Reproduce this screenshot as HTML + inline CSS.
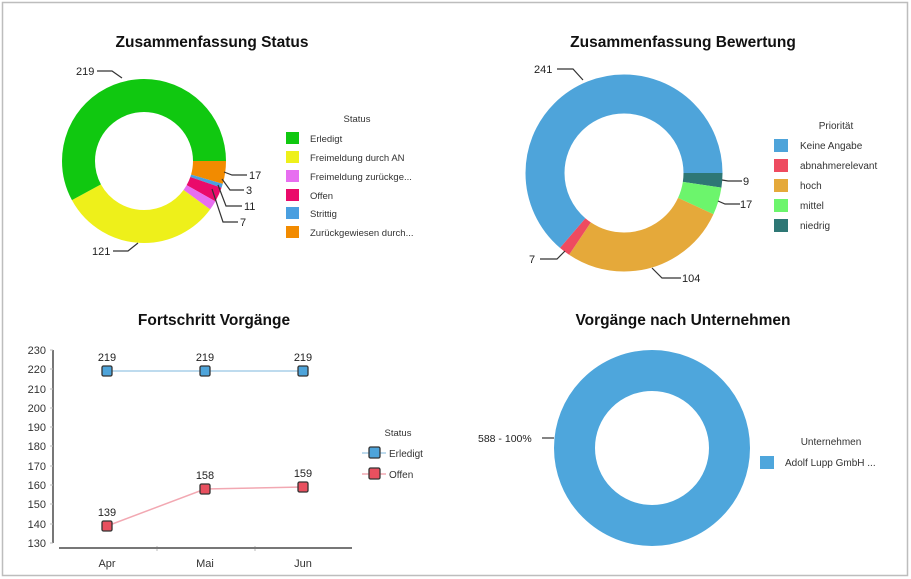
<!DOCTYPE html>
<html><head><meta charset="utf-8"><style>
body{margin:0;background:#fff;}
svg{display:block;font-family:"Liberation Sans",sans-serif;}
</style></head><body>
<svg width="911" height="579" viewBox="0 0 911 579">
<rect x="2.5" y="2.5" width="905" height="573" fill="#fff" stroke="#bdbdbd" stroke-width="1.5"/>
<g font-weight="bold" font-size="15.5" fill="#111" text-anchor="middle">
<text x="212" y="47">Zusammenfassung Status</text>
<text x="683" y="47">Zusammenfassung Bewertung</text>
<text x="214" y="325">Fortschritt Vorgänge</text>
<text x="683" y="325">Vorgänge nach Unternehmen</text>
</g>
<!-- Donut 1 -->
<g fill="none" stroke-width="33" transform="translate(144,161)">
<circle r="65.5" stroke="#f28b00" stroke-dasharray="18.51 500" stroke-dashoffset="0"/>
<circle r="65.5" stroke="#4a9fe0" stroke-dasharray="3.27 500" stroke-dashoffset="-18.51"/>
<circle r="65.5" stroke="#ea0a6a" stroke-dasharray="11.98 500" stroke-dashoffset="-21.78"/>
<circle r="65.5" stroke="#e76ef0" stroke-dasharray="7.62 500" stroke-dashoffset="-33.76"/>
<circle r="65.5" stroke="#eef01a" stroke-dasharray="131.74 500" stroke-dashoffset="-41.38"/>
<circle r="65.5" stroke="#10c810" stroke-dasharray="238.44 500" stroke-dashoffset="-173.12"/>
</g>
<g fill="none" stroke="#333" stroke-width="1.2">
<polyline points="122,78 112,71 97,71"/>
<polyline points="138,243 128,251 113,251"/>
<polyline points="224,172 232,175 247,175"/>
<polyline points="222,179 230,190 244,190"/>
<polyline points="218,185 226,206 242,206"/>
<polyline points="212,189 223,222 238,222"/>
</g>
<g font-size="11" fill="#222">
<text x="76" y="75">219</text>
<text x="92" y="255">121</text>
<text x="249" y="179">17</text>
<text x="246" y="194">3</text>
<text x="244" y="210">11</text>
<text x="240" y="226">7</text>
</g>
<g font-size="9.5" fill="#333">
<text x="357" y="122" text-anchor="middle">Status</text>
<rect x="286" y="132" width="13" height="12" fill="#10c810"/><text x="310" y="142">Erledigt</text>
<rect x="286" y="151" width="13" height="12" fill="#eef01a"/><text x="310" y="161">Freimeldung durch AN</text>
<rect x="286" y="170" width="13" height="12" fill="#e76ef0"/><text x="310" y="180">Freimeldung zurückge...</text>
<rect x="286" y="189" width="13" height="12" fill="#ea0a6a"/><text x="310" y="199">Offen</text>
<rect x="286" y="207" width="13" height="12" fill="#4a9fe0"/><text x="310" y="217">Strittig</text>
<rect x="286" y="226" width="13" height="12" fill="#f28b00"/><text x="310" y="236">Zurückgewiesen durch...</text>
</g>
<!-- Donut 2 -->
<g fill="none" stroke-width="39" transform="translate(624,173)">
<circle r="79" stroke="#2e7775" stroke-dasharray="11.82 600" stroke-dashoffset="0"/>
<circle r="79" stroke="#6cf56c" stroke-dasharray="22.32 600" stroke-dashoffset="-11.82"/>
<circle r="79" stroke="#e5a93a" stroke-dasharray="136.57 600" stroke-dashoffset="-34.14"/>
<circle r="79" stroke="#ee4b60" stroke-dasharray="9.19 600" stroke-dashoffset="-170.71"/>
<circle r="79" stroke="#4ea4da" stroke-dasharray="316.47 600" stroke-dashoffset="-179.9"/>
</g>
<g fill="none" stroke="#333" stroke-width="1.2">
<polyline points="583,80 573,69 557,69"/>
<polyline points="722,180 728,181 742,181"/>
<polyline points="718,201 725,204 740,204"/>
<polyline points="652,268 662,278 681,278"/>
<polyline points="565,251 557,259 540,259"/>
</g>
<g font-size="11" fill="#222">
<text x="534" y="73">241</text>
<text x="743" y="185">9</text>
<text x="740" y="208">17</text>
<text x="682" y="282">104</text>
<text x="529" y="263">7</text>
</g>
<g font-size="10" fill="#333">
<text x="836" y="129" text-anchor="middle">Priorität</text>
<rect x="774" y="139" width="14" height="13" fill="#4ea4da"/><text x="800" y="149">Keine Angabe</text>
<rect x="774" y="159" width="14" height="13" fill="#ee4b60"/><text x="800" y="169">abnahmerelevant</text>
<rect x="774" y="179" width="14" height="13" fill="#e5a93a"/><text x="800" y="189">hoch</text>
<rect x="774" y="199" width="14" height="13" fill="#6cf56c"/><text x="800" y="209">mittel</text>
<rect x="774" y="219" width="14" height="13" fill="#2e7775"/><text x="800" y="229">niedrig</text>
</g>
<!-- Donut 3 -->
<circle cx="652" cy="448" r="77.5" fill="none" stroke="#4ea6dc" stroke-width="41"/>
<polyline points="554,438 542,438" fill="none" stroke="#333" stroke-width="1.2"/>
<text x="478" y="442" font-size="10.5" fill="#222">588 - 100%</text>
<text x="831" y="445" font-size="10" fill="#333" text-anchor="middle">Unternehmen</text>
<rect x="760" y="456" width="14" height="13" fill="#4ea6dc"/>
<text x="785" y="466" font-size="10" fill="#333">Adolf Lupp GmbH ...</text>
<!-- Line chart -->
<g font-size="11" fill="#333" text-anchor="end">
<text x="46" y="354">230</text><text x="46" y="373">220</text><text x="46" y="393">210</text>
<text x="46" y="412">200</text><text x="46" y="431">190</text><text x="46" y="450">180</text>
<text x="46" y="470">170</text><text x="46" y="489">160</text><text x="46" y="508">150</text>
<text x="46" y="528">140</text><text x="46" y="547">130</text>
</g>
<line x1="53" y1="350" x2="53" y2="543" stroke="#777" stroke-width="2"/>
<g stroke="#bbb" stroke-width="1">
<line x1="50" y1="350" x2="53" y2="350"/><line x1="50" y1="369" x2="53" y2="369"/><line x1="50" y1="389" x2="53" y2="389"/>
<line x1="50" y1="408" x2="53" y2="408"/><line x1="50" y1="427" x2="53" y2="427"/><line x1="50" y1="446" x2="53" y2="446"/>
<line x1="50" y1="466" x2="53" y2="466"/><line x1="50" y1="485" x2="53" y2="485"/><line x1="50" y1="504" x2="53" y2="504"/>
<line x1="50" y1="524" x2="53" y2="524"/><line x1="50" y1="543" x2="53" y2="543"/>
<line x1="157" y1="546" x2="157" y2="551"/><line x1="255" y1="546" x2="255" y2="551"/>
</g>
<line x1="59" y1="548" x2="352" y2="548" stroke="#777" stroke-width="2"/>
<g font-size="11" fill="#333" text-anchor="middle">
<text x="107" y="567">Apr</text><text x="205" y="567">Mai</text><text x="303" y="567">Jun</text>
</g>
<polyline points="107,371 205,371 303,371" fill="none" stroke="#a9cfe9" stroke-width="1.5"/>
<polyline points="107,526 205,489 303,487" fill="none" stroke="#f2a8b2" stroke-width="1.5"/>
<g stroke="#333" stroke-width="1.3">
<rect x="102" y="366" width="10" height="10" rx="1.5" fill="#4ea4da"/>
<rect x="200" y="366" width="10" height="10" rx="1.5" fill="#4ea4da"/>
<rect x="298" y="366" width="10" height="10" rx="1.5" fill="#4ea4da"/>
<rect x="102" y="521" width="10" height="10" rx="1.5" fill="#e8505f"/>
<rect x="200" y="484" width="10" height="10" rx="1.5" fill="#e8505f"/>
<rect x="298" y="482" width="10" height="10" rx="1.5" fill="#e8505f"/>
</g>
<g font-size="11" fill="#222" text-anchor="middle">
<text x="107" y="361">219</text><text x="205" y="361">219</text><text x="303" y="361">219</text>
<text x="107" y="516">139</text><text x="205" y="479">158</text><text x="303" y="477">159</text>
</g>
<text x="398" y="436" font-size="9.5" fill="#333" text-anchor="middle">Status</text>
<line x1="362" y1="453" x2="386" y2="453" stroke="#a9cfe9" stroke-width="1.5"/>
<rect x="369" y="447" width="11" height="11" rx="1.5" fill="#4ea4da" stroke="#333" stroke-width="1.3"/>
<text x="389" y="457" font-size="10" fill="#333">Erledigt</text>
<line x1="362" y1="474" x2="386" y2="474" stroke="#f2a8b2" stroke-width="1.5"/>
<rect x="369" y="468" width="11" height="11" rx="1.5" fill="#e8505f" stroke="#333" stroke-width="1.3"/>
<text x="389" y="478" font-size="10" fill="#333">Offen</text>
</svg>
</body></html>
